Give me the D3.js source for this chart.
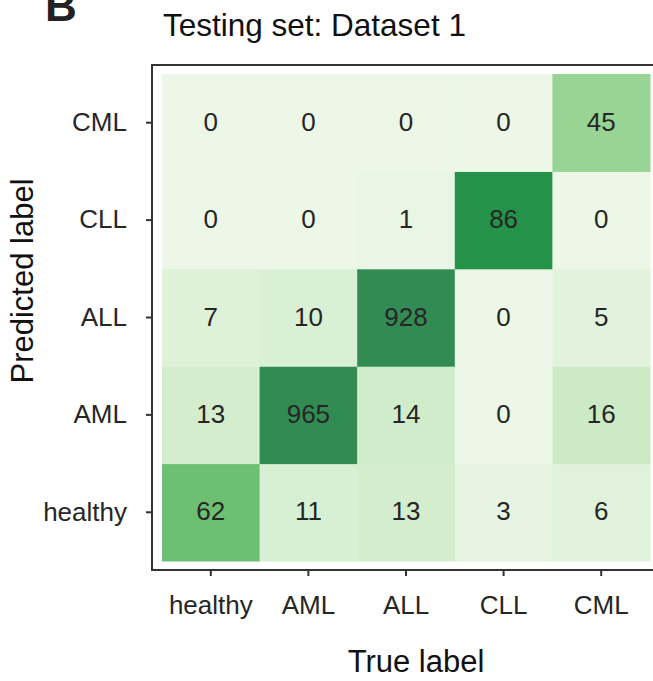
<!DOCTYPE html>
<html>
<head>
<meta charset="utf-8">
<script src="https://cdn.jsdelivr.net/npm/d3@7"></script>
<style>
  html, body { margin: 0; padding: 0; background: #fff; }
  svg { display: block; font-family: "Liberation Sans", Arial, Helvetica, sans-serif; }
</style>
</head>
<body>
<svg id="chart" width="653" height="681"></svg>
<script>
// Class order along both axes
const trueLabels = ["healthy", "AML", "ALL", "CLL", "CML"];
const predLabels = ["healthy", "AML", "ALL", "CLL", "CML"];

// Confusion counts: one array per predicted class, columns follow trueLabels
const predHealthy = [62, 11, 13, 3, 6];
const predAML     = [13, 965, 14, 0, 16];
const predALL     = [7, 10, 928, 0, 5];
const predCLL     = [0, 0, 1, 86, 0];
const predCML     = [0, 0, 0, 0, 45];
const counts = [predHealthy, predAML, predALL, predCLL, predCML];

const titleText = "Testing set: Dataset 1";
const panelLetter = "B";

const svg = d3.select("#chart");

// Heatmap area
const x = d3.scaleBand().domain(trueLabels).range([162, 650]);
const y = d3.scaleBand().domain(predLabels.slice().reverse()).range([74, 561]);

// Green colour ramp, saturating above its top stop
const colorScale = d3.scaleLinear()
  .domain([0, 5, 10, 16, 45, 62, 86])
  .range(["#ecf7e7", "#e2f2dd", "#d9f0d4", "#cdeac6", "#98d493", "#6dc072", "#25924a"])
  .clamp(true);
const overColor = "#338b54";
const fillFor = v => (v > 100 ? overColor : colorScale(v));

const cells = [];
predLabels.forEach((p, i) => {
  trueLabels.forEach((t, j) => {
    cells.push({ pred: p, truth: t, value: counts[i][j] });
  });
});

svg.append("g").selectAll("rect")
  .data(cells)
  .join("rect")
  .attr("x", d => x(d.truth))
  .attr("y", d => y(d.pred))
  .attr("width", x.bandwidth() + 0.5)
  .attr("height", y.bandwidth() + 0.5)
  .attr("fill", d => fillFor(d.value));

svg.append("g").selectAll("text")
  .data(cells)
  .join("text")
  .attr("x", d => x(d.truth) + x.bandwidth() / 2)
  .attr("y", d => y(d.pred) + y.bandwidth() / 2 + 8)
  .attr("text-anchor", "middle")
  .attr("font-size", 26)
  .attr("fill", "#262626")
  .text(d => d.value);

// Frame around the heatmap (offset from the cells)
svg.append("rect")
  .attr("x", 152).attr("y", 65)
  .attr("width", 510).attr("height", 505)
  .attr("fill", "none")
  .attr("stroke", "#333")
  .attr("stroke-width", 2);

// Axes placed on the frame
const xAxis = d3.axisBottom(x).tickSize(6).tickPadding(20);
const gx = svg.append("g").attr("transform", "translate(0,570)").call(xAxis);
gx.select(".domain").remove();
gx.selectAll(".tick line").attr("stroke", "#333").attr("stroke-width", 2);
gx.selectAll(".tick text").attr("font-size", 26).attr("fill", "#262626")
  .attr("font-family", "Liberation Sans, Arial, sans-serif");

const yAxis = d3.axisLeft(y).tickSize(6).tickPadding(19);
const gy = svg.append("g").attr("transform", "translate(152,0)").call(yAxis);
gy.select(".domain").remove();
gy.selectAll(".tick line").attr("stroke", "#333").attr("stroke-width", 2);
gy.selectAll(".tick text").attr("font-size", 26).attr("fill", "#262626")
  .attr("font-family", "Liberation Sans, Arial, sans-serif");

// Axis titles
svg.append("text")
  .attr("x", 416).attr("y", 672)
  .attr("text-anchor", "middle")
  .attr("font-size", 31)
  .attr("fill", "#111")
  .text("True label");

svg.append("text")
  .attr("transform", "translate(33,281) rotate(-90)")
  .attr("text-anchor", "middle")
  .attr("font-size", 31)
  .attr("fill", "#111")
  .text("Predicted label");

// Chart title
svg.append("text")
  .attr("x", 163).attr("y", 36)
  .attr("font-size", 31.5)
  .attr("fill", "#111")
  .text(titleText);

// Panel letter
svg.append("text")
  .attr("x", 45).attr("y", 21)
  .attr("font-size", 44)
  .attr("font-weight", "bold")
  .attr("fill", "#222")
  .text(panelLetter);
</script>
</body>
</html>
